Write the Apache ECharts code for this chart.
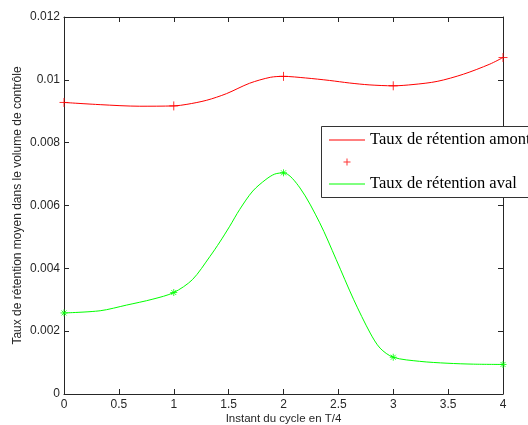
<!DOCTYPE html>
<html>
<head>
<meta charset="utf-8">
<script src="https://cdn.jsdelivr.net/npm/echarts@6/dist/echarts.min.js"></script>
<style>html,body{margin:0;padding:0;background:#fff}#c{width:528px;height:425px}</style>
</head>
<body>
<div id="c"></div>
<script>
// Values
const redX   = [0, 0.33, 0.69, 1, 1.12, 1.3, 1.48, 1.69, 1.88, 2, 2.2, 2.42, 2.6, 2.78, 3, 3.18, 3.4, 3.64, 3.88, 4];
const redY   = [0.00928, 0.00921, 0.00916, 0.00917, 0.00922, 0.00935, 0.00956, 0.00989, 0.01008, 0.01011, 0.01006, 0.00998, 0.00990, 0.00984, 0.00981, 0.00985, 0.00995, 0.01018, 0.0105, 0.01071];
const greenX = [0, 0.33, 0.57, 0.81, 1, 1.17, 1.33, 1.42, 1.51, 1.6, 1.72, 1.84, 1.92, 2, 2.15, 2.33, 2.48, 2.64, 2.79, 2.88, 3, 3.24, 3.49, 3.73, 4];
const greenY = [0.00258, 0.00265, 0.00283, 0.00302, 0.00323, 0.00364, 0.00438, 0.00484, 0.00534, 0.00587, 0.00646, 0.00683, 0.00700, 0.00704, 0.00656, 0.00545, 0.00428, 0.00300, 0.00194, 0.00146, 0.00117, 0.00104, 0.00098, 0.00095, 0.00094];
const markX      = [0, 1, 2, 3, 4];
const redMarkY   = [0.00928, 0.00917, 0.01011, 0.00981, 0.01071];
const greenMarkY = [0.00258, 0.00323, 0.00704, 0.00117, 0.00094];
const xTicks = { min: 0, max: 4, interval: 0.5 };
const yTicks = { min: 0, max: 0.012, interval: 0.002 };
const nameAmont = 'Taux de rétention amont';
const nameAval  = 'Taux de rétention aval';
const xTitle = 'Instant du cycle en T/4';
const yTitle = 'Taux de rétention moyen dans le volume de contrôle';

const zip = (xs, ys) => xs.map((x, i) => [x, ys[i]]);
const axisCol = '#262626';
const labelStyle = { color: '#262626', fontFamily: 'Liberation Sans', fontSize: 12 };

const chart = echarts.init(document.getElementById('c'), null, { renderer: 'canvas' });
chart.setOption({
  animation: false,
  backgroundColor: '#fff',
  grid: { left: 64, right: 25, top: 17, bottom: 31, containLabel: false, outerBoundsMode: 'none' },
  xAxis: [
    { type: 'value', position: 'bottom', min: xTicks.min, max: xTicks.max, interval: xTicks.interval,
      name: xTitle, nameLocation: 'middle', nameGap: 19, nameMoveOverlap: false,
      nameTextStyle: { color: '#262626', fontFamily: 'Liberation Sans', fontSize: 11.5 },
      axisLine: { show: true, lineStyle: { color: axisCol, width: 1 } },
      axisTick: { show: true, inside: true, length: 5, lineStyle: { color: axisCol } },
      axisLabel: Object.assign({ margin: 5, formatter: v => String(+v.toFixed(2)) }, labelStyle),
      splitLine: { show: false } },
    { type: 'value', position: 'top', min: xTicks.min, max: xTicks.max, interval: xTicks.interval,
      axisLine: { show: true, onZero: false, lineStyle: { color: axisCol, width: 1 } },
      axisTick: { show: true, inside: true, length: 5, lineStyle: { color: axisCol } },
      axisLabel: { show: false }, splitLine: { show: false } }
  ],
  yAxis: [
    { type: 'value', position: 'left', min: yTicks.min, max: yTicks.max, interval: yTicks.interval,
      name: yTitle, nameLocation: 'middle', nameGap: 40, nameRotate: 90, nameMoveOverlap: false,
      nameTextStyle: { color: '#262626', fontFamily: 'Liberation Sans', fontSize: 12 },
      axisLine: { show: true, lineStyle: { color: axisCol, width: 1 } },
      axisTick: { show: true, inside: true, length: 5, lineStyle: { color: axisCol } },
      axisLabel: Object.assign({ margin: 4, formatter: v => String(+v.toFixed(4)) }, labelStyle),
      splitLine: { show: false } },
    { type: 'value', position: 'right', min: yTicks.min, max: yTicks.max, interval: yTicks.interval,
      axisLine: { show: true, onZero: false, lineStyle: { color: axisCol, width: 1 } },
      axisTick: { show: true, inside: true, length: 5, lineStyle: { color: axisCol } },
      axisLabel: { show: false }, splitLine: { show: false } }
  ],
  legend: {
    orient: 'vertical', left: 321.5, top: 126.5,
    padding: [5, 8, 5, 7], itemWidth: 36, itemHeight: 10, itemGap: 5,
    backgroundColor: '#fff', borderColor: '#333', borderWidth: 1,
    textStyle: { color: '#000', fontFamily: 'Liberation Serif', fontSize: 16.5, lineHeight: 16 },
    lineStyle: { width: 1 },
    selectedMode: false,
    data: [
      { name: nameAmont, itemStyle: { opacity: 0 }, lineStyle: { width: 1, color: '#ff0000' } },
      { name: ' ', icon: 'path://M0,0M36,10M17.5,1.5h1v3h3v1h-3v3h-1v-3h-3v-1h3z', itemStyle: { color: '#ff0000', borderWidth: 0 } },
      { name: nameAval, itemStyle: { opacity: 0 }, lineStyle: { width: 1, color: '#00ff00' } }
    ]
  },
  series: [
    { name: nameAmont, type: 'line', data: zip(redX, redY), smooth: 0.3, symbol: 'none',
      lineStyle: { color: '#ff0000', width: 1 }, itemStyle: { color: '#ff0000' }, z: 3 },
    { name: ' ', type: 'scatter', data: zip(markX, redMarkY),
      symbol: 'path://M0,4.5L9,4.5M4.5,0L4.5,9', symbolSize: 9,
      itemStyle: { color: 'none', borderColor: '#ff0000', borderWidth: 1 }, z: 4 },
    { name: nameAval, type: 'line', data: zip(greenX, greenY), smooth: 0.3, symbol: 'none',
      lineStyle: { color: '#00ff00', width: 1 }, itemStyle: { color: '#00ff00' }, z: 3 },
    { name: '  ', type: 'scatter', data: zip(markX, greenMarkY),
      symbol: 'path://M0,3.5L7,3.5M3.5,0L3.5,7M1,1L6,6M1,6L6,1', symbolSize: 7,
      itemStyle: { color: 'none', borderColor: '#00ff00', borderWidth: 1 }, z: 4 }
  ]
});
</script>
</body>
</html>
